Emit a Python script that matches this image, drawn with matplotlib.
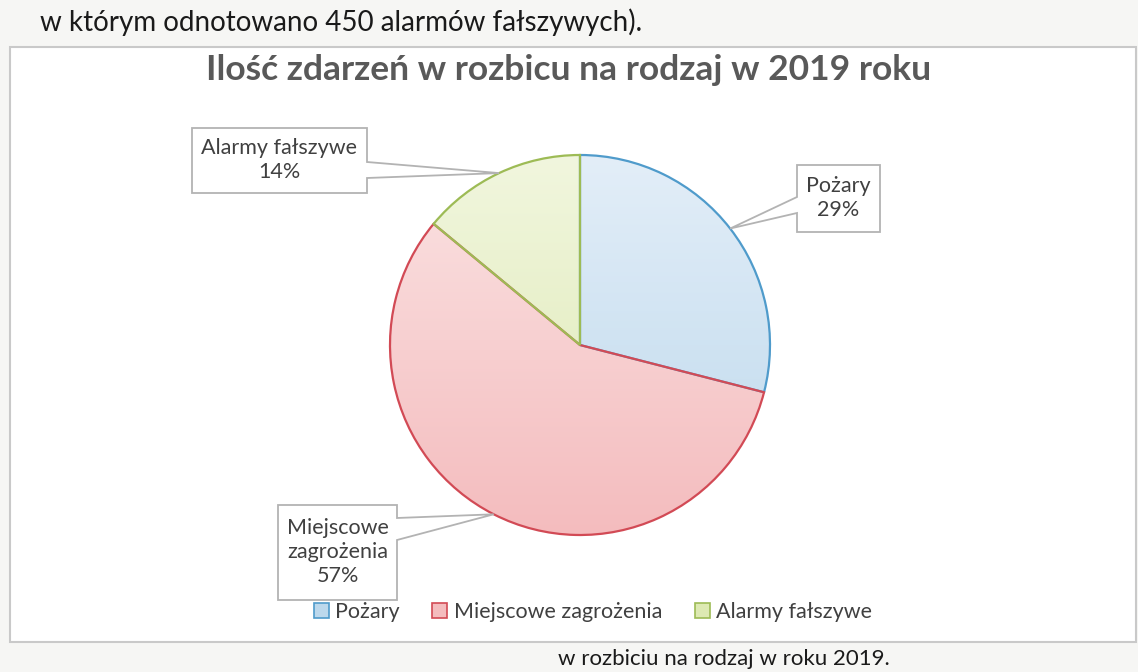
import numpy as np
import matplotlib.pyplot as plt
from matplotlib.patches import Rectangle, Polygon, Patch
from matplotlib.colors import LinearSegmentedColormap

# data
categories = ['Pożary', 'Miejscowe zagrożenia', 'Alarmy fałszywe']
box_labels = ['Pożary', 'Miejscowe\nzagrożenia', 'Alarmy fałszywe']
shares = [29, 57, 14]

edge_colors = ['#4f9bcb', '#d24a55', '#9dbb55']
top_colors = ['#e3eef8', '#fbe3e3', '#f1f6de']
bottom_colors = ['#bcd8ec', '#f4bcbe', '#dde9b2']

plt.rcParams['font.family'] = ['Lato', 'DejaVu Sans']

W, H = 1138, 672
fig = plt.figure(figsize=(W / 100, H / 100), dpi=100, facecolor='#f6f6f4')
ax = fig.add_axes([0, 0, 1, 1])


def py(y):
    # pixel row (from top) -> data y
    return H - y


# chart frame
ax.add_patch(Rectangle((10, py(642)), 1126, 595, facecolor='white',
                       edgecolor='#c9c9c9', lw=1.5, zorder=0))

# text of the document around the chart
ax.text(40, py(22), 'w którym odnotowano 450 alarmów fałszywych).', fontsize=20,
        color='#1a1a1a', ha='left', va='center')
ax.text(890, py(659), 'w rozbiciu na rodzaj w roku 2019.', fontsize=16,
        color='#1a1a1a', ha='right', va='center')

ax.text(569, py(70), 'Ilość zdarzeń w rozbicu na rodzaj w 2019 roku', fontsize=25.5,
        fontweight='bold', color='#595959', ha='center', va='center')

cx, cy, r = 580, py(345), 190
wedges, _ = ax.pie(shares, center=(cx, cy), radius=r, startangle=90,
                   counterclock=False, frame=True,
                   wedgeprops=dict(linewidth=1.6, facecolor='none'))

grad = np.linspace(1, 0, 256).reshape(-1, 1)
for w, ec, c0, c1 in zip(wedges, edge_colors, top_colors, bottom_colors):
    w.set_edgecolor(ec)
    w.set_zorder(3)
    cmap = LinearSegmentedColormap.from_list('g', [c1, c0])
    im = ax.imshow(grad, cmap=cmap, extent=(cx - r, cx + r, cy - r, cy + r),
                   aspect='auto', interpolation='bicubic', zorder=2, origin='upper')
    im.set_clip_path(w)

ax.set_xlim(0, W)
ax.set_ylim(0, H)
ax.set_aspect('equal')
ax.axis('off')

# callout boxes: (x0, x1, top, bottom) in pixel rows, wedge side and wedge span
boxes = [
    (797, 880, 165, 232, 'left', 197, 213),
    (278, 397, 505, 600, 'right', 518, 540),
    (192, 367, 128, 193, 'right', 162, 178),
]
for w, lab, pct, (x0, x1, t, b, side, w0, w1) in zip(wedges, box_labels, shares, boxes):
    mid = np.deg2rad((w.theta1 + w.theta2) / 2)
    anchor = (cx + r * np.cos(mid), cy + r * np.sin(mid))
    if side == 'right':
        pts = [(x0, py(t)), (x1, py(t)), (x1, py(w0)), anchor, (x1, py(w1)),
               (x1, py(b)), (x0, py(b))]
    else:
        pts = [(x0, py(t)), (x1, py(t)), (x1, py(b)), (x0, py(b)), (x0, py(w1)),
               anchor, (x0, py(w0))]
    ax.add_patch(Polygon(pts, closed=True, facecolor='white', edgecolor='#b3b3b3',
                         lw=1.3, zorder=4))
    ax.text((x0 + x1) / 2, py((t + b) / 2), f'{lab}\n{pct}%', fontsize=15.5,
            color='#404040', ha='center', va='center', linespacing=1.25, zorder=5)

handles = [Patch(facecolor=c, edgecolor=e, lw=1.2) for c, e in zip(bottom_colors, edge_colors)]
ax.legend(handles, categories, loc='center', bbox_to_anchor=(593 / W, 1 - 612 / H),
          ncol=3, frameon=False, fontsize=15.5, handlelength=0.7, handleheight=0.7,
          handletextpad=0.3, columnspacing=1.5, labelcolor='#404040')

fig.savefig('out.png', dpi=100, facecolor=fig.get_facecolor())
